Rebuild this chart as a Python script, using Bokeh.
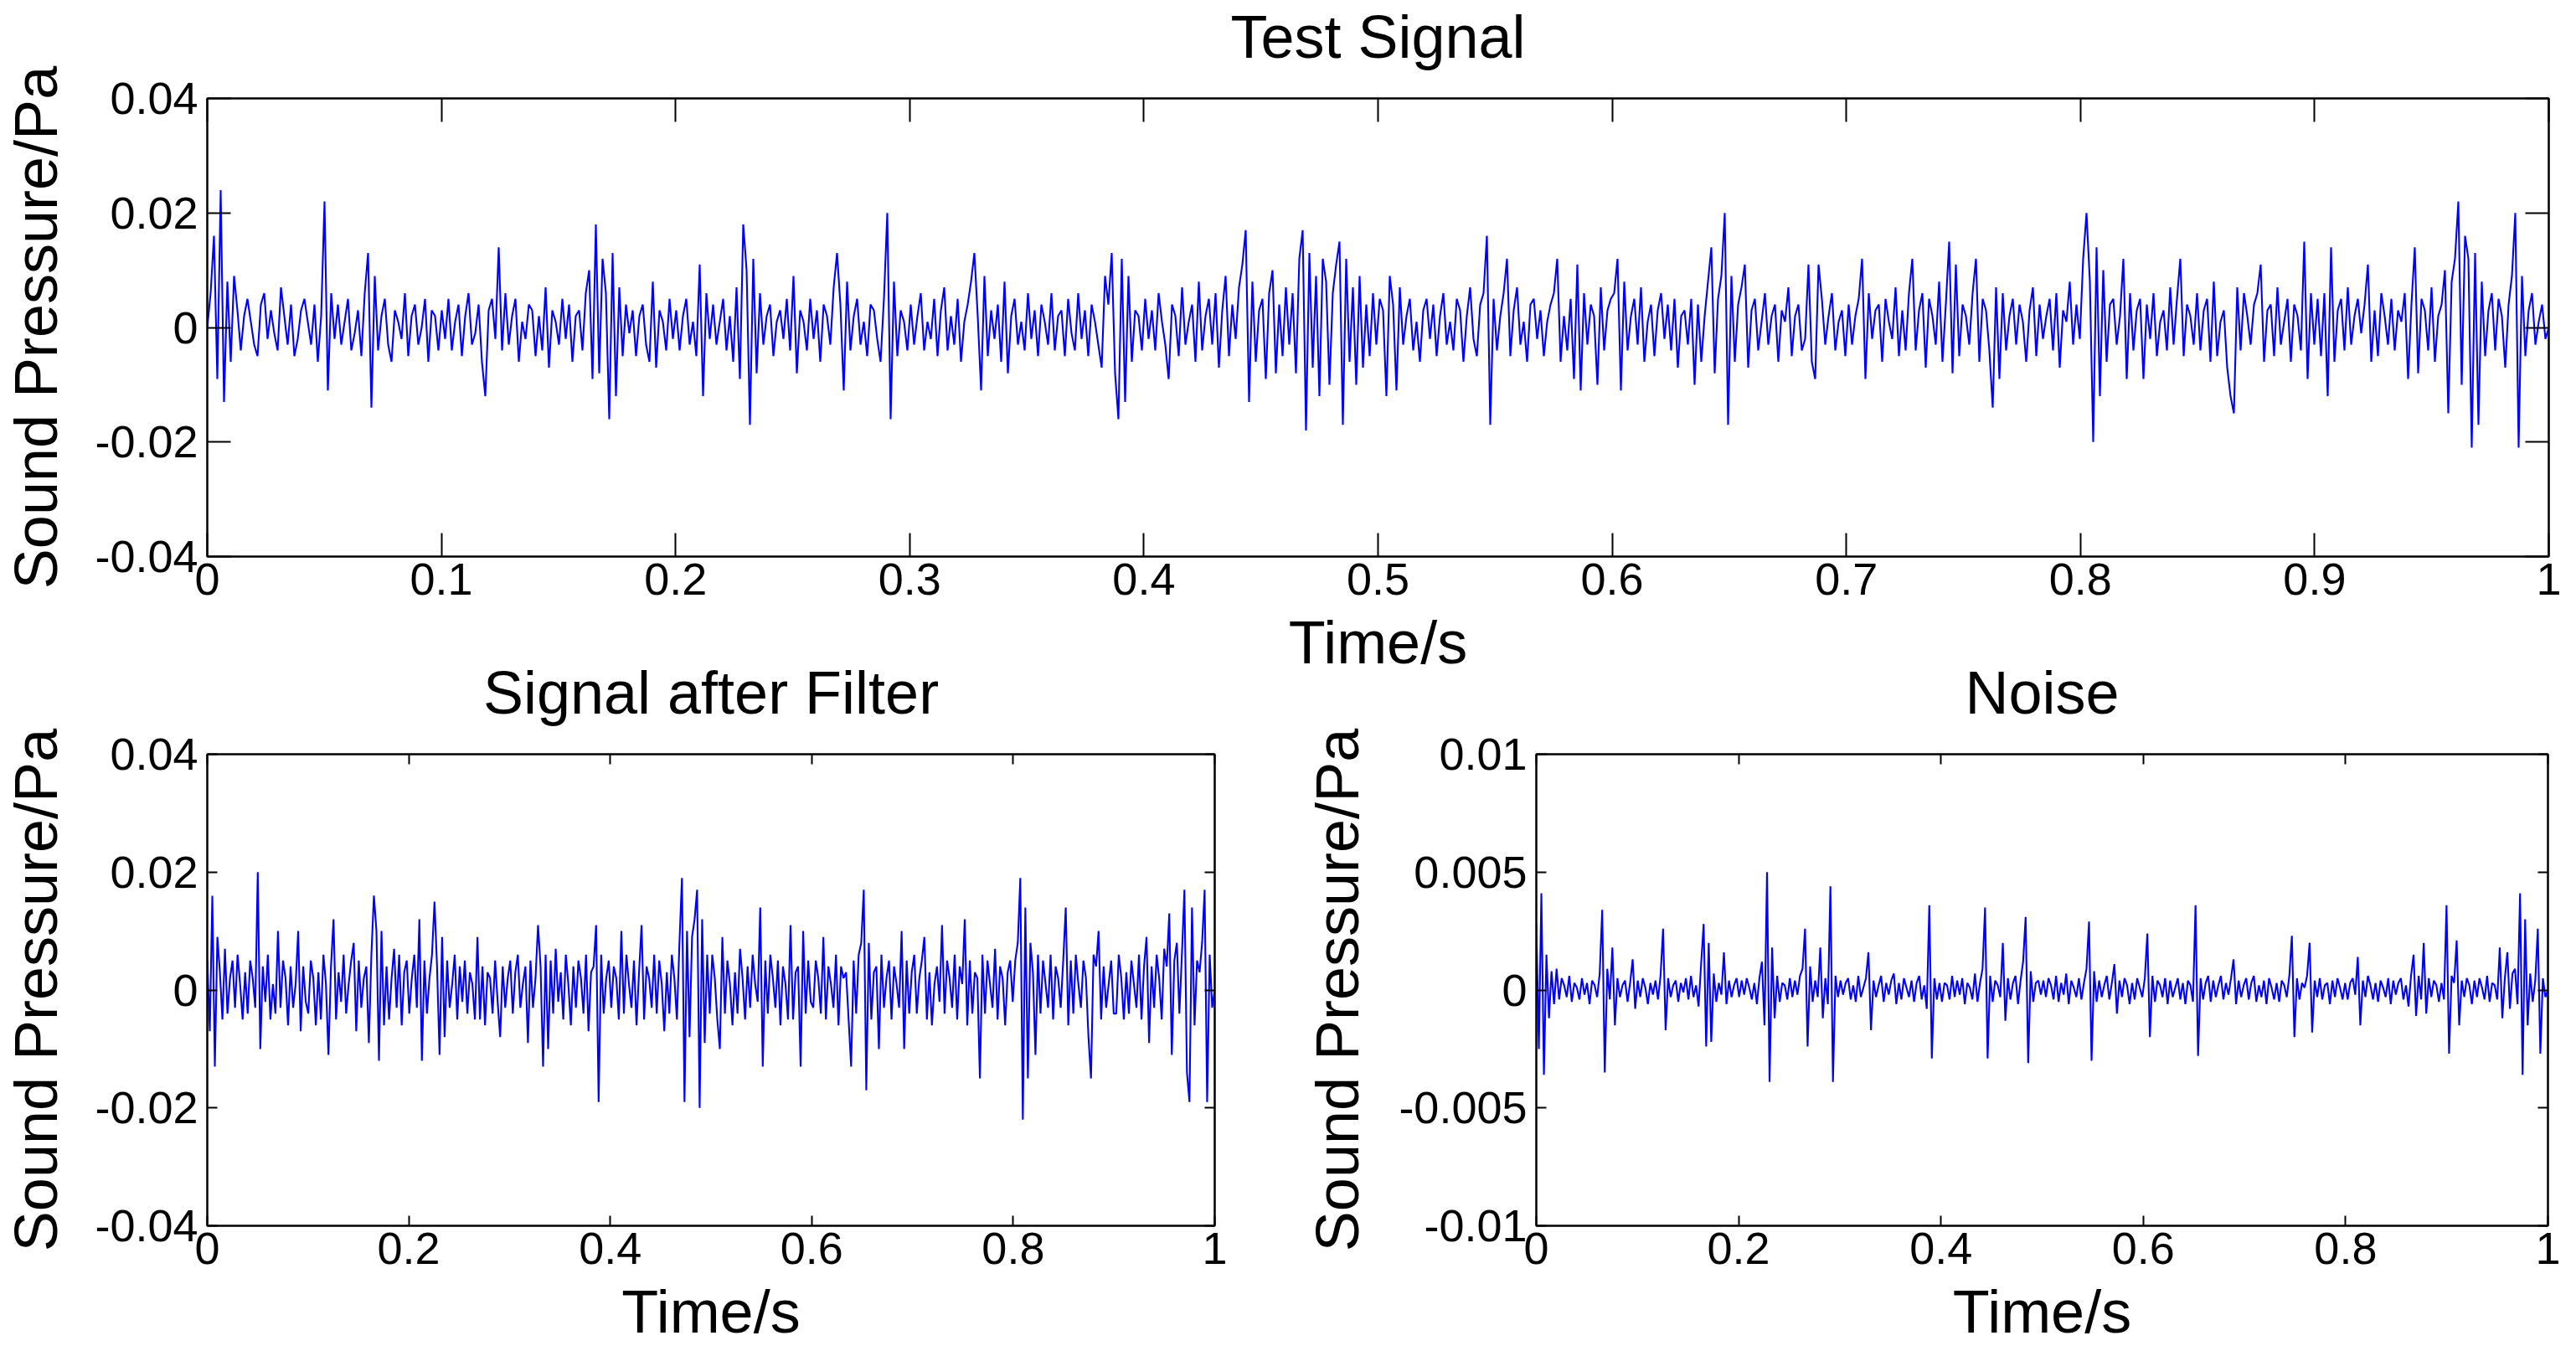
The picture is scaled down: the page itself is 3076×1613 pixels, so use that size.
import numpy as np
from bokeh.plotting import figure
from bokeh.layouts import column, row
from bokeh.models import (LinearAxis, FixedTicker, CustomJSTickFormatter, Range1d,
                          ColumnDataSource)
from bokeh.embed import file_html
from bokeh.resources import INLINE

FONT = "Liberation Sans"

# ---------------- data ----------------
panel_titles = ["Test Signal", "Signal after Filter", "Noise"]
x_label = "Time/s"
y_label = "Sound Pressure/Pa"

top_xticks = [0, 0.1, 0.2, 0.3, 0.4, 0.5, 0.6, 0.7, 0.8, 0.9, 1]
bottom_xticks = [0, 0.2, 0.4, 0.6, 0.8, 1]
test_yticks = [-0.04, -0.02, 0, 0.02, 0.04]
filtered_yticks = [-0.04, -0.02, 0, 0.02, 0.04]
noise_yticks = [-0.01, -0.005, 0, 0.005, 0.01]

# sound pressure in mPa, equally spaced samples over 0..1 s
test_signal_mpa = [
    0, 6, 16, -9, 24, -13, 8, -6, 9, 3, -4, 2, 5, 1, -3, -5, 4, 6, -2, 3, -1, -4, 7, 2, -3, 4, -5, -2, 3, 5,
    1, -3, 4, -6, 2, 22, -11, 6, -2, 4, -3, 1, 5, -4, -1, 3, -5, 6, 13, -14, 9, -4, 2, 5, -3, -6, 3, 1, -2, 6,
    -5, 2, 4, -3, 0, 5, -6, 3, 2, -4,
    3, -2, 5, -4, 1, 4, -5, 2, 6, -3, -1, 4, -6, -12, 3, 5, -2, 14, -4, 6, -3, 2, 5, -6, 1, -2, 4, 3, -5, 2,
    -4, 7, -7, 3, 1, -3, 5, -2, 4, -6, 2, 3, -4, 6, 10, -9, 18, -8, 12, 6, -16, 13, -12, 7, -5, 4, -1, 3, -5, 2,
    4, -3, -6, 8, -7, 3, 1, -4, 5, -2,
    3, -4, 2, 5, -3, 1, -5, 11, -12, 6, -2, 4, -3, 1, 5, -4, 2, -6, 7, -9, 18, 10, -17, 12, -8, 6, -3, 2, 4, -5,
    1, 3, -2, 5, -4, 9, -8, 3, 1, -4, 5, -2, 3, -6, 4, 2, -3, 7, 13, 4, -11, 8, -4, 2, 5, -3, 1, -5, 4, 3,
    -2, -6, 5, 20, -16, 8, -5, 3, 1, -4,
    4, -3, 2, 6, -4, 1, -2, 5, -5, 3, 7, -4, 2, -3, 5, -6, 1, 4, 8, 13, 2, -11, 9, -5, 3, -2, 4, -6, 8, -8,
    2, 5, -3, 1, -4, 6, -2, 3, -5, 4, 1, -3, 6, -4, 2, 3, -5, 5, -1, -4, 6, -2, 3, -5, 4, 1, -3, -7, 9, 4,
    13, -8, -16, 12, -13, 9, -6, 3, 2, -4,
    5, -2, 3, -4, 6, 1, -3, -9, 4, 2, -5, 7, -3, 1, 4, -6, 8, -4, 2, 5, -3, 6, -7, 3, 9, -5, 4, -2, 7, 11,
    17, -13, 8, -6, 3, 5, -9, 6, 10, -8, 4, -5, 7, -3, 6, -8, 12, 17, -18, 13, -7, 9, -12, 12, 8, -10, 6, 11, 15, -17,
    12, -6, 7, -10, 9, -7, 4, -5, 6, -3,
    5, 3, -12, 9, 4, -11, 7, -3, 2, 5, -4, 1, -6, 3, 5, -2, 4, -5, 2, 6, -3, 1, -4, 5, 3, -6, 2, 7, -2, -5,
    4, 6, 16, -17, 5, -4, 2, 6, 12, -5, 3, 7, -3, 1, -6, 4, 5, -2, 3, -5, 1, 4, 6, 12, -6, 2, -4, 5, -9, 11,
    -11, 6, -3, 4, 2, -10, 7, -4, 3, 5,
    6, 12, -11, 8, -4, 2, 5, -3, 7, -6, 1, 4, -5, 3, 6, -2, 4, -4, 5, -7, 2, 3, -3, 5, -10, 4, -6, 2, 8, 14,
    -8, 5, 9, 20, -17, 9, -6, 4, 7, 11, -7, 3, 5, -4, 1, 6, -3, 2, 4, -6, 3, 1, 7, -5, 2, 4, -4, -2, 11, -6,
    -9, 11, 5, -3, 2, 6, -4, 1, 3, -5,
    4, -3, 2, 5, 12, -9, 6, -2, 3, 4, -6, 5, 1, -2, 7, -5, 3, -4, 6, 12, -4, 3, 6, -7, 5, 2, -3, 8, -6, 4,
    15, -8, 11, -5, 4, 2, -3, 6, 12, -6, 5, 3, -4, -14, 7, -9, 6, -4, 2, 5, -3, 4, 1, -6, 3, 7, -5, 4, -2, 2,
    5, -4, 6, -7, 3, 1, 8, -3, 4, -2,
    12, 20, 8, -20, 14, -12, 10, -6, 4, 5, -3, 2, 12, -9, 6, -4, 3, 5, -9, 4, -2, 6, -5, 1, 3, -4, 7, -3, 5, 12,
    -5, 4, 2, -3, 6, -4, 3, 5, -6, 8, -5, 1, 3, -7, -12, -15, 7, -4, 6, 2, -3, 4, 6, 11, -6, 3, 4, -5, 7, -3,
    1, 5, -6, 4, 2, -4, 15, -9, 6, -3,
    5, -5, 6, -12, 14, -6, 3, 5, -4, 7, -3, 2, 5, -1, 4, 11, -6, 3, -5, 6, 2, -3, 5, -4, 3, 1, 6, -9, 4, 14,
    -8, 5, 3, -4, 7, -6, 2, 4, 10, -15, 8, 12, 22, -10, 16, 12, -21, 13, -17, 8, -5, 3, 6, -4, 5, 2, -7, 4, 9, 20,
    -21, 9, -5, 3, 6, -3, 1, 4, -2, 0,
]

filtered_signal_mpa = [
    5, -7, 16, -13, 9, 3, -5, 7, -4, 2, 5, -3, 6, 1, -5, 3, -4, 5, 2, -3,
    20, -10, 4, -2, 6, -5, 1, -4, 10, -3, 5, 2, -6, 4, -3, 1, 10, -7, 4, -2,
    -4, 5, 2, -6, 3, -5, 6, 1, -11, 4, 12, -5, 3, -2, 6, -4, 1, 5, 8, -7,
    5, -3, 2, 4, -9, 6, 16, 10, -12, 10, -6, 4, -5, 2, 7, -3, 6, -6, 3, 5,
    -4, 2, 6, -3, 12, -12, 5, -4, 2, 6, 15, 4, -11, 9, -8, 5, -3, 1, 6, -5,
    4, -2, 5, -4, 3, 1, -5, 9, -5, 4, -6, 3, 2, -4, 5, -2, -8, 4, -3, 2,
    5, -4, 3, 6, -3, 1, 4, -9, 5, -3, 2, 11, 4, -13, 6, -10, 5, -4, 7, -2,
    3, -5, 6, 1, -6, 4, -3, 5, 2, -4, 6, -7, 3, 4, 11, -19, 6, -4, 2, 5,
    -3, 4, 2, -5, 10, -4, 6, 1, -3, 5, -6, 3, 11, -5, 4, 2, -3, 6, -4, 5,
    1, -7, 3, -4, 6, 2, -5, 8, 19, -19, 10, -8, 9, 12, 17, -20, 12, -9, 6, -4,
    6, 2, -5, -10, 9, -4, 5, 1, -6, 3, -4, 7, 2, -5, 4, -3, 6, 1, -2, 14,
    -13, 5, -4, 6, 2, -3, 5, -6, 4, 1, -5, 11, -5, 3, 4, -13, 10, -4, 5, -2,
    -3, 5, 2, -4, 9, -5, 4, 1, -3, 6, -6, 4, 2, 3, -5, -13, 5, -4, 6, 8,
    17, -17, 8, -5, 3, 4, -10, 6, -3, 2, 5, -5, 4, 1, -3, 10, -10, 5, -4, 3,
    6, -4, 2, 5, 9, -5, 3, -6, 1, 4, -2, 11, -4, 5, 2, -3, 6, -5, 4, 1,
    12, -6, 5, -4, 3, 2, -15, 6, -4, 5, 1, -3, 7, -5, 4, 2, -6, 3, 5, -2,
    5, 8, 19, -22, 14, -15, 8, 3, -11, 6, -4, 5, 1, -3, 6, -5, 4, 2, -3, 5,
    14, -6, 5, -4, 6, 1, -3, 5, 2, -8, -15, 6, 4, 10, -5, 4, -3, 1, 5, -4,
    -4, 6, 2, -5, 3, -4, 5, 1, -3, 6, -5, 4, 9, -9, 4, -3, 6, 2, -5, 7,
    4, 13, -11, 5, 8, -4, 6, 17, -14, -19, 14, -6, 5, 3, 8, 17, -19, 6, -3, 0,
]

noise_mpa = [
    2.8, -2.5, 4.1, -3.6, 1.5, -1.2, 0.8, -0.6, 0.9, -0.4, 0.5, 0.2, -0.3, 0.6, -0.5, 0.3, 0.1, -0.4, 0.5, -0.2,
    0.3, -0.6, 0.4, 0.2, -0.3, 0.7, 3.4, -3.5, 0.9, -0.4, 1.8, -1.5, 0.5, -0.3, 0.2, 0.4, -0.5, 0.3, 1.3, -0.8,
    0.4, -0.3, 0.5, 0.1, -0.6, 0.3, -0.2, 0.4, -0.4, 0.6, 2.6, -1.7, 0.5, -0.3, 0.2, 0.4, -0.5, 0.3, -0.1, 0.5,
    -0.4, 0.6, -0.3, 0.2, -0.7, 1.1, 2.8, -2.4, 2.0, -2.2, 0.7, -0.5, 0.3, -0.2, 1.6, -0.6, 0.4, -0.3, 0.2, 0.5,
    -0.3, 0.4, -0.2, 0.5, 0.1, -0.4, 0.3, -0.6, 0.5, 1.2, -1.5, 5.0, -3.9, 1.8, -1.2, 0.6, -0.5, 0.3, 0.2, -0.4,
    0.5, -0.3, 0.4, -0.2, 0.6, 0.9, 2.6, -2.4, 1.0, -0.5, 0.4, -0.3, 1.8, -1.2, 0.5, -0.6, 4.4, -3.9, 0.6, -0.3,
    0.4, -0.2, 0.3, 0.5, -0.4, 0.2, -0.5, 0.6, -0.3, 0.1, 0.5, 1.6, -1.7, 0.4, -0.3, 0.2, 0.6, -0.5, 0.3, -0.2,
    0.4, 0.7, -0.6, 0.3, -0.4, 0.5, 0.1, -0.3, 0.4, -0.5, 0.3, 0.6, -0.4, 0.2, -0.8, 3.6, -2.9, 0.5, -0.4, 0.3,
    -0.5, 0.3, 0.2, -0.4, 0.6, -0.3, 0.4, -0.2, 0.5, -0.6, 0.3, 0.1, -0.4, 0.7, -0.5, 0.3, 0.9, 3.5, -2.9, 0.6,
    -0.5, 0.4, 0.2, -0.3, 2.0, -1.3, 0.5, -0.4, 0.3, 0.6, -0.6, 0.4, 1.2, 3.1, -3.1, 0.8, -0.5, 0.3, 0.4, -0.2,
    0.4, -0.3, 0.5, 0.2, -0.4, 0.6, -0.5, 0.3, -0.2, 0.7, -0.6, 0.4, 0.1, -0.3, 0.5, -0.4, 0.3, 0.9, 2.9, -3.0,
    0.8, -0.5, 0.4, -0.3, 0.2, 0.6, -0.4, 0.3, 1.1, -1.0, 0.4, -0.3, 0.5, 0.2, -0.6, 0.3, -0.4, 0.5, 0.1, -0.3,
    0.5, 2.4, -2.0, 0.6, -0.5, 0.4, 0.2, -0.3, 0.5, -0.6, 0.4, -0.3, 0.1, 0.5, -0.4, 0.3, -0.6, 0.4, 0.2, -0.5,
    3.6, -2.8, 0.5, -0.4, 0.3, 0.6, -0.5, 0.4, -0.3, 0.2, 0.6, -0.4, 0.3, -0.2, 0.5, 1.3, -0.6, 0.4, -0.3, 0.2,
    0.5, -0.4, 0.3, 0.6, -0.5, 0.2, -0.3, 0.4, -0.6, 0.5, 0.1, -0.4, 0.3, -0.5, 0.4, 0.2, -0.3, 0.6, 2.3, -2.0,
    0.5, -0.4, 0.3, 0.1, 0.6, 2.0, -1.8, 0.4, -0.3, 0.5, -0.4, 0.2, 0.3, -0.6, 0.4, -0.3, 0.5, 0.1, -0.4, 0.3,
    -0.4, 0.3, 0.5, -0.2, 1.4, -1.5, 0.4, -0.3, 0.6, 0.2, -0.4, 0.3, -0.5, 0.4, 0.1, -0.3, 0.5, -0.6, 0.4, -0.2,
    0.3, 0.5, -0.4, 0.2, -0.7, 0.6, 1.5, -1.1, 0.6, -0.4, 2.0, -1.0, 0.5, -0.3, 0.4, 0.2, -0.5, 0.3, -0.4, 3.6,
    -2.7, 0.6, 0.3, 2.1, -1.5, 0.4, -0.3, 0.5, 0.2, -0.6, 0.4, -0.3, 0.5, 0.1, -0.4, 0.6, -0.5, 0.3, 0.2, -0.4,
    1.8, -1.2, 0.5, 1.6, -0.8, 0.7, 0.9, -0.6, 4.1, -3.6, 3.0, -1.5, 0.7, -0.5, 0.4, 2.6, -2.7, 0.5, -0.3, 0.0,
]

FMT = "return String(Math.round(tick * 100000) / 100000);"


def style_text_axis(ax):
    ax.axis_label_text_font = FONT
    ax.axis_label_text_font_size = "72px"
    ax.axis_label_text_font_style = "normal"
    ax.axis_label_text_color = "black"


def make_panel(values_mpa, title, xticks, yticks, width, height,
               b_left, b_right, b_top, b_bottom, tick_len,
               title_standoff, xtick_standoff, xlabel_standoff, ylabel_standoff,
               border_fill):
    y = np.asarray(values_mpa, dtype=float) / 1000.0
    t = np.arange(len(y)) / (len(y) - 1)
    src = ColumnDataSource(dict(t=t, y=y))

    p = figure(width=width, height=height, title=None,
               x_range=Range1d(xticks[0], xticks[-1]),
               y_range=Range1d(yticks[0], yticks[-1]),
               output_backend="svg", toolbar_location=None,
               min_border_left=b_left, min_border_right=b_right,
               min_border_top=b_top, min_border_bottom=b_bottom,
               x_axis_label=x_label, y_axis_label=y_label)
    p.line("t", "y", source=src, line_color="#0000ff", line_width=2.1)

    p.grid.visible = False
    p.outline_line_color = "black"
    p.outline_line_width = 2
    p.outline_line_alpha = 1.0
    p.background_fill_color = "white"
    p.border_fill_color = border_fill

    for ax, ticks in ((p.xaxis[0], xticks), (p.yaxis[0], yticks)):
        ax.ticker = FixedTicker(ticks=ticks)
        ax.formatter = CustomJSTickFormatter(code=FMT)
        ax.major_label_text_font = FONT
        ax.major_label_text_font_size = "54px"
        ax.major_label_text_color = "black"
        ax.axis_line_width = 2
        ax.axis_line_color = "black"
        ax.major_tick_in = tick_len
        ax.major_tick_out = 0
        ax.major_tick_line_width = 2
        ax.major_tick_line_color = "black"
        ax.minor_tick_line_color = None
        style_text_axis(ax)
    p.xaxis[0].major_label_standoff = xtick_standoff
    p.xaxis[0].axis_label_standoff = xlabel_standoff
    p.yaxis[0].major_label_standoff = 11
    p.yaxis[0].axis_label_standoff = ylabel_standoff

    # box ticks on the top and right edges; the top one also carries the panel title
    for loc, ticks in (("above", xticks), ("right", yticks)):
        ax = LinearAxis(ticker=FixedTicker(ticks=ticks),
                        major_label_text_font_size="0px",
                        major_label_text_color=None,
                        major_label_standoff=0,
                        axis_line_width=2, axis_line_color="black",
                        major_tick_in=tick_len, major_tick_out=0,
                        major_tick_line_width=2, major_tick_line_color="black",
                        minor_tick_line_color=None)
        if loc == "above":
            ax.axis_label = title
            ax.axis_label_standoff = title_standoff
            style_text_axis(ax)
        p.add_layout(ax, loc)
    return p


top = make_panel(test_signal_mpa, panel_titles[0], top_xticks, test_yticks,
                 width=3063, height=824, b_left=243, b_right=20, b_top=117, b_bottom=160,
                 tick_len=28, title_standoff=34, xtick_standoff=8, xlabel_standoff=14,
                 ylabel_standoff=27, border_fill="white")
left = make_panel(filtered_signal_mpa, panel_titles[1], bottom_xticks, filtered_yticks,
                  width=1470, height=833, b_left=243, b_right=20, b_top=120, b_bottom=150,
                  tick_len=12, title_standoff=34, xtick_standoff=8, xlabel_standoff=14,
                  ylabel_standoff=27, border_fill=None)
right = make_panel(noise_mpa, panel_titles[2], bottom_xticks, noise_yticks,
                   width=1592, height=833, b_left=364, b_right=20, b_top=120, b_bottom=150,
                   tick_len=12, title_standoff=34, xtick_standoff=8, xlabel_standoff=14,
                   ylabel_standoff=30, border_fill=None)

# the lower row is pulled up under the transparent margin of the top panel
bottom_row = row(left, right, margin=(-44, 0, 0, 0))
layout = column(top, bottom_row)
open("out.html", "w").write(file_html(layout, INLINE))
